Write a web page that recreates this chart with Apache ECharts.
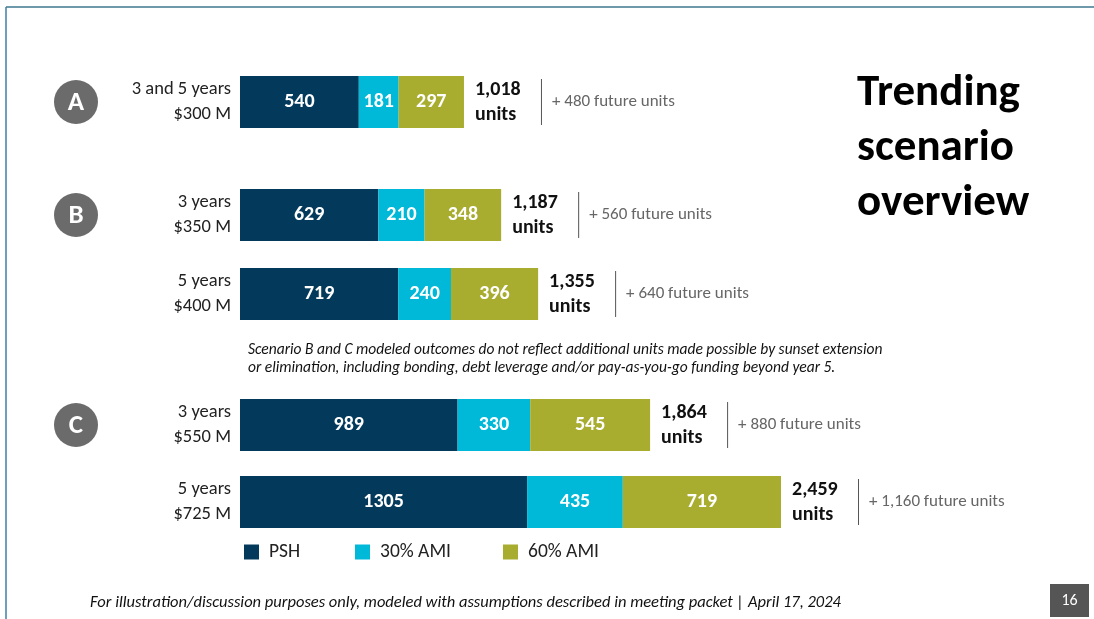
<!DOCTYPE html>
<html>
<head>
<meta charset="UTF-8">
<title>Trending scenario overview</title>
<script src="https://cdn.jsdelivr.net/npm/echarts@6/dist/echarts.min.js"></script>
<style>
html, body { margin: 0; padding: 0; background: #fff; }
#main { width: 1094px; height: 619px; }
</style>
</head>
<body>
<div id="main"></div>
<script type="text/javascript">
// data
var rowLabels = ['3 and 5 years\n$300 M', '3 years\n$350 M', '5 years\n$400 M', '3 years\n$550 M', '5 years\n$725 M'];
var psh = [540, 629, 719, 989, 1305];
var ami30 = [181, 210, 240, 330, 435];
var ami60 = [297, 348, 396, 545, 719];
var totals = [1018, 1187, 1355, 1864, 2459];
var future = [480, 560, 640, 880, 1160];
var scenarios = ['A', 'B', 'C'];
var scenarioRow = [0, 1, 3]; // row where each scenario circle sits

// layout
var rowTops = [76, 189, 268, 399, 476];
var rowH = 52;
var FONT = 'Carlito, Lato, "Noto Sans", sans-serif';
var C_PSH = '#033a5c', C_30 = '#00b8d8', C_60 = '#a8ad2f';

var myChart = echarts.init(document.getElementById('main'));

function fmt(v) { return v.toLocaleString('en-US'); }

var grids = [], xAxes = [], yAxes = [], series = [];
for (var i = 0; i < rowLabels.length; i++) {
	grids.push({ left: 240, right: 313, top: rowTops[i], height: rowH });
	xAxes.push({ gridIndex: i, type: 'value', min: 0, max: 2459, show: false });
	yAxes.push({
		gridIndex: i, type: 'category', data: [rowLabels[i]],
		axisLine: { show: false }, axisTick: { show: false },
		axisLabel: { margin: 9, fontSize: 18.5, lineHeight: 25, color: '#222', fontFamily: FONT }
	});
	var inside = { show: true, position: 'inside', color: '#fff', fontSize: 20, fontWeight: 'bold', fontFamily: FONT };
	series.push({
		name: 'PSH', type: 'bar', stack: 's' + i, xAxisIndex: i, yAxisIndex: i,
		barWidth: '100%', itemStyle: { color: C_PSH }, label: inside, data: [psh[i]]
	});
	series.push({
		name: '30% AMI', type: 'bar', stack: 's' + i, xAxisIndex: i, yAxisIndex: i,
		barWidth: '100%', itemStyle: { color: C_30 }, label: inside, data: [ami30[i]]
	});
	series.push({
		name: '60% AMI', type: 'bar', stack: 's' + i, xAxisIndex: i, yAxisIndex: i,
		barWidth: '100%', itemStyle: { color: C_60 }, label: inside, data: [ami60[i]]
	});
	// zero-width cap carrying the total + future units labels
	(function (k) {
		series.push({
			name: 'total', type: 'bar', stack: 's' + k, xAxisIndex: k, yAxisIndex: k,
			barWidth: '100%', itemStyle: { color: 'transparent' }, silent: true,
			data: [0],
			label: {
				show: true, position: 'right', distance: 11,
				formatter: '{n|' + fmt(totals[k]) + '}\n{n|units}',
				rich: { n: { fontSize: 20, fontWeight: 'bold', color: '#111', lineHeight: 25, fontFamily: FONT } }
			}
		});
		series.push({
			name: 'future', type: 'bar', stack: 's' + k, xAxisIndex: k, yAxisIndex: k,
			barWidth: '100%', itemStyle: { color: 'transparent' }, silent: true,
			data: [0],
			label: {
				show: true, position: 'right', distance: 77,
				formatter: '{s|}{f|+ ' + fmt(future[k]) + ' future units}',
				rich: {
					s: { width: 1, height: 46, backgroundColor: '#555' },
					f: { fontSize: 17, color: '#666', padding: [0, 0, 0, 10], verticalAlign: 'middle', fontFamily: FONT }
				}
			}
		});
	})(i);
}

var graphics = [
	{ type: 'line', shape: { x1: 6, y1: 7, x2: 1094, y2: 7 }, style: { stroke: '#6d99aa', lineWidth: 2 } },
	{ type: 'line', shape: { x1: 6, y1: 7, x2: 6, y2: 619 }, style: { stroke: '#3f7fa6', lineWidth: 1.5 } },
	{
		type: 'text', left: 248, top: 341,
		style: {
			text: 'Scenario B and C modeled outcomes do not reflect additional units made possible by sunset extension\nor elimination, including bonding, debt leverage and/or pay-as-you-go funding beyond year 5.',
			fontSize: 15.5, fontStyle: 'italic', lineHeight: 18, fill: '#111', fontFamily: FONT
		}
	},
	{
		type: 'text', left: 90, top: 594,
		style: {
			text: 'For illustration/discussion purposes only, modeled with assumptions described in meeting packet | April 17, 2024',
			fontSize: 16.5, fontStyle: 'italic', fill: '#111', fontFamily: FONT
		}
	},
	{ type: 'rect', shape: { x: 1050, y: 584, width: 39, height: 33 }, style: { fill: '#555' } },
	{ type: 'text', x: 1069.5, y: 600.5, style: { text: '16', fill: '#fff', fontSize: 16, align: 'center', verticalAlign: 'middle', fontFamily: FONT } }
];
for (var j = 0; j < scenarios.length; j++) {
	var cy = rowTops[scenarioRow[j]] + rowH / 2;
	graphics.push({ type: 'circle', shape: { cx: 76, cy: cy, r: 22 }, style: { fill: '#6b6b6b' } });
	graphics.push({
		type: 'text', x: 76, y: cy + 1,
		style: { text: scenarios[j], fill: '#fff', fontSize: 27, fontWeight: 'bold', align: 'center', verticalAlign: 'middle', fontFamily: FONT }
	});
}

function legendAt(name, left) {
	return {
		data: [name], left: left, top: 542, icon: 'rect', itemWidth: 15, itemHeight: 15, itemGap: 0,
		padding: 0, textStyle: { fontSize: 19.5, color: '#222', fontFamily: FONT, padding: [0, 0, 0, 5] }
	};
}

var option = {
	animation: false,
	backgroundColor: '#fff',
	title: {
		text: 'Trending\nscenario\noverview', left: 857, top: 66, padding: 0,
		textStyle: { fontSize: 45, fontWeight: 'bold', lineHeight: 55, color: '#000', fontFamily: FONT }
	},
	legend: [legendAt('PSH', 244), legendAt('30% AMI', 355), legendAt('60% AMI', 503)],
	grid: grids,
	xAxis: xAxes,
	yAxis: yAxes,
	series: series,
	graphic: graphics
};
myChart.setOption(option);
</script>
</body>
</html>
